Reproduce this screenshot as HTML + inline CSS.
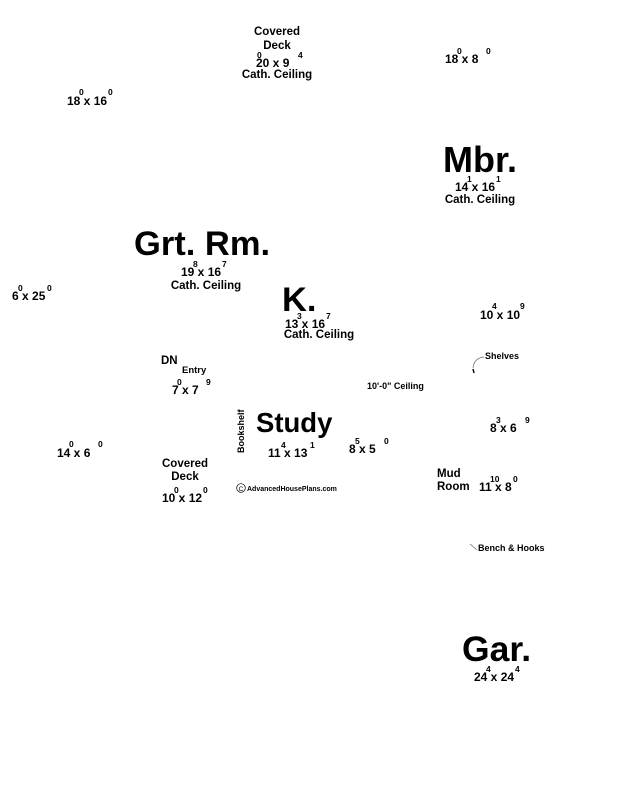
<!DOCTYPE html>
<html><head><meta charset="utf-8"><style>
html,body{margin:0;padding:0;background:#fff;}
svg{display:block;}
text{font-family:"Liberation Sans",Arial,sans-serif;font-weight:bold;fill:#000;}
.s{font-size:12px;}
.u{font-size:8.5px;}
.c{font-size:11.5px;}
.big{font-size:34.5px;}
</style></head><body>
<svg width="625" height="788" viewBox="0 0 625 788" xmlns="http://www.w3.org/2000/svg">
<text class="c" x="277" y="35" text-anchor="middle">Covered</text>
<text class="c" x="277" y="49" text-anchor="middle">Deck</text>
<text class="s" x="256" y="67">20 x 9</text>
<text class="u" x="257" y="58">0</text><text class="u" x="298" y="58">4</text>
<text class="c" x="277" y="78" text-anchor="middle">Cath. Ceiling</text>

<text class="s" x="445" y="63">18 x 8</text>
<text class="u" x="457" y="54">0</text><text class="u" x="486" y="54">0</text>

<text class="s" x="67" y="105">18 x 16</text>
<text class="u" x="79" y="95">0</text><text class="u" x="108" y="95">0</text>

<text class="big" x="443" y="172" style="font-size:36px">Mbr.</text>
<text class="s" x="455" y="191">14 x 16</text>
<text class="u" x="467" y="182">1</text><text class="u" x="496" y="182">1</text>
<text class="c" x="480" y="203" text-anchor="middle">Cath. Ceiling</text>

<text class="big" x="134" y="255">Grt. Rm.</text>
<text class="s" x="181" y="276">19 x 16</text>
<text class="u" x="193" y="267">8</text><text class="u" x="222" y="267">7</text>
<text class="c" x="206" y="289" text-anchor="middle">Cath. Ceiling</text>

<text class="s" x="12" y="300">6 x 25</text>
<text class="u" x="18" y="291">0</text><text class="u" x="47" y="291">0</text>

<text class="big" x="282" y="311">K.</text>
<text class="s" x="285" y="328">13 x 16</text>
<text class="u" x="297" y="319">3</text><text class="u" x="326" y="319">7</text>
<text class="c" x="319" y="338" text-anchor="middle">Cath. Ceiling</text>

<text class="s" x="480" y="319">10 x 10</text>
<text class="u" x="492" y="309">4</text><text class="u" x="520" y="309">9</text>

<path d="M484,357 Q474,358 473,368" stroke="#666" stroke-width="0.7" fill="none"/>
<path d="M473,369 l1,4" stroke="#000" stroke-width="1.5"/>
<text x="485" y="359" style="font-size:9px">Shelves</text>

<text class="c" x="161" y="364">DN</text>
<text x="182" y="373" style="font-size:9.5px">Entry</text>
<text class="s" x="172" y="394">7 x 7</text>
<text class="u" x="177" y="385">0</text><text class="u" x="206" y="385">9</text>

<text x="367" y="389" style="font-size:9px">10'-0" Ceiling</text>

<text x="0" y="0" style="font-size:9px" transform="translate(244,453) rotate(-90)">Bookshelf</text>
<text x="256" y="432" style="font-size:27.5px">Study</text>
<text class="s" x="268" y="457">11 x 13</text>
<text class="u" x="281" y="448">4</text><text class="u" x="310" y="448">1</text>

<text class="s" x="349" y="453">8 x 5</text>
<text class="u" x="355" y="444">5</text><text class="u" x="384" y="444">0</text>

<text class="s" x="490" y="432">8 x 6</text>
<text class="u" x="496" y="423">3</text><text class="u" x="525" y="423">9</text>

<text class="s" x="57" y="457">14 x 6</text>
<text class="u" x="69" y="447">0</text><text class="u" x="98" y="447">0</text>

<text class="c" x="185" y="467" text-anchor="middle">Covered</text>
<text class="c" x="185" y="480" text-anchor="middle">Deck</text>
<text class="s" x="162" y="502">10 x 12</text>
<text class="u" x="174" y="493">0</text><text class="u" x="203" y="493">0</text>

<circle cx="241" cy="488" r="4.3" fill="none" stroke="#000" stroke-width="0.7"/>
<text x="241" y="491" text-anchor="middle" style="font-size:6.5px;font-weight:normal">C</text>
<text x="247" y="491" style="font-size:7px">AdvancedHousePlans.com</text>

<text class="c" x="437" y="477">Mud</text>
<text class="c" x="437" y="490">Room</text>
<text class="s" x="479" y="491">11 x 8</text>
<text class="u" x="490" y="482">10</text><text class="u" x="513" y="482">0</text>

<path d="M470,544 L477,550" stroke="#666" stroke-width="0.7"/>
<text x="478" y="551" style="font-size:9px">Bench &amp; Hooks</text>

<text class="big" x="462" y="661" style="font-size:35.5px">Gar.</text>
<text class="s" x="474" y="681">24 x 24</text>
<text class="u" x="486" y="672">4</text><text class="u" x="515" y="672">4</text>
</svg>
</body></html>
